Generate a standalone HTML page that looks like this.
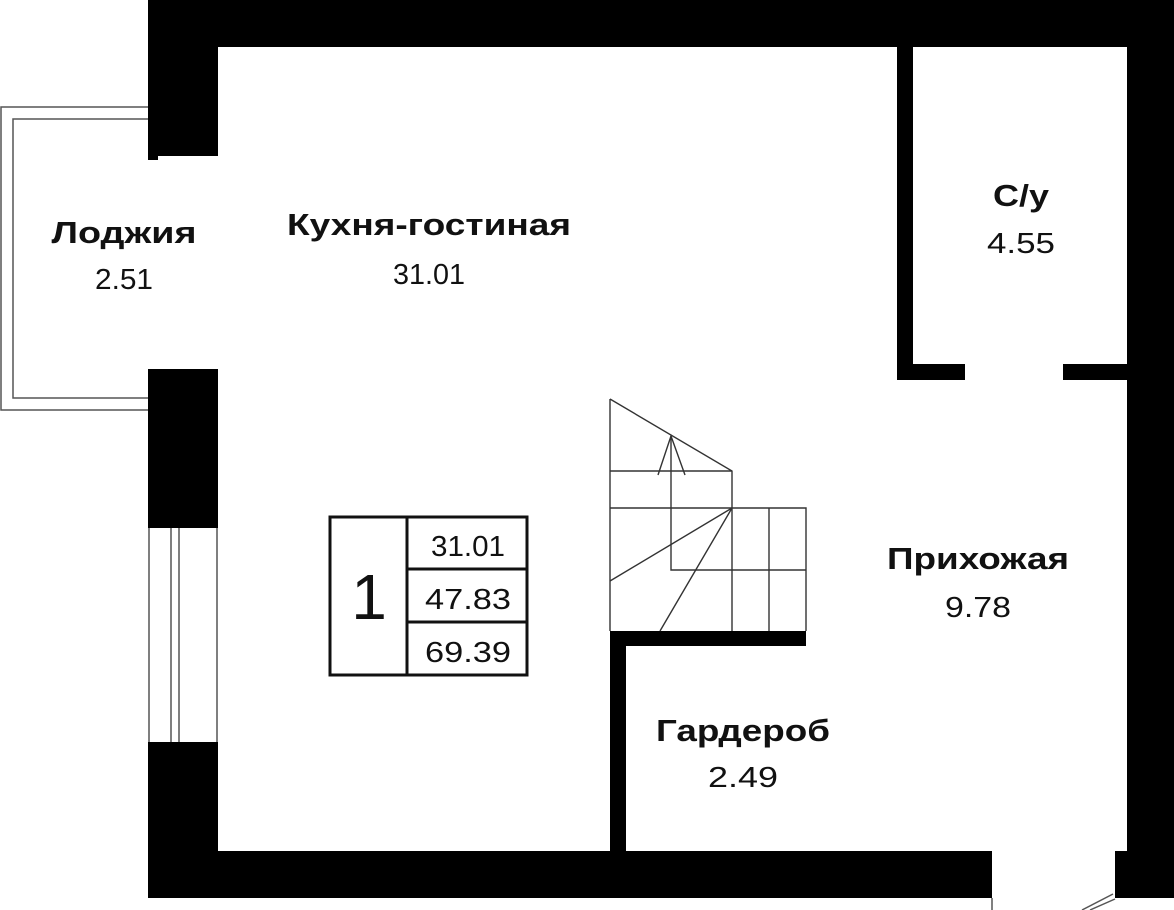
<!DOCTYPE html>
<html><head><meta charset="utf-8"><style>
html,body{margin:0;padding:0;background:#fff;}
svg{display:block;}
text{font-family:"Liberation Sans","DejaVu Sans",sans-serif;fill:#111;}
.b{font-weight:bold;font-size:31px;}
.n{font-size:29px;}
</style></head><body>
<svg width="1174" height="910" viewBox="0 0 1174 910" xmlns="http://www.w3.org/2000/svg">
<rect width="1174" height="910" fill="#fff"/>
<g fill="none" stroke="#555" stroke-width="1.5">
<path d="M148 107 H1 V410 H148"/>
<path d="M148 119 H13 V398 H148"/>
</g>
<g fill="#000">
<rect x="148" y="0" width="1026" height="47"/>
<rect x="1127" y="0" width="47" height="898"/>
<rect x="1115" y="851" width="59" height="47"/>
<rect x="148" y="0" width="70" height="156"/>
<rect x="148" y="156" width="10" height="4"/>
<rect x="148" y="369" width="70" height="159"/>
<rect x="148" y="742" width="70" height="156"/>
<rect x="148" y="851" width="844" height="47"/>
<rect x="610" y="631" width="196" height="15"/>
<rect x="610" y="631" width="16" height="222"/>
<rect x="897" y="47" width="16" height="333"/>
<rect x="897" y="364" width="68" height="16"/>
<rect x="1063" y="364" width="64" height="16"/>
</g>
<g stroke="#555" stroke-width="1.5" fill="none">
<line x1="149" y1="528" x2="149" y2="742"/>
<line x1="171" y1="528" x2="171" y2="742"/>
<line x1="179" y1="528" x2="179" y2="742"/>
<line x1="217" y1="528" x2="217" y2="742"/>
<line x1="992" y1="898" x2="992" y2="910"/>
<line x1="1113" y1="894" x2="1082" y2="910"/>
<line x1="1115" y1="899" x2="1090" y2="910"/>
</g>
<g stroke="#333" stroke-width="1.4" fill="none">
<path d="M610 399 V631"/>
<path d="M610 399 L732 471 V631"/>
<path d="M610 471 H732"/>
<path d="M610 508 H806 V631"/>
<path d="M671 436 V570 H806"/>
<path d="M769 508 V631"/>
<path d="M658 475 L671 436 L685 475"/>
<path d="M610 581 L732 508 L660 631"/>
</g>
<g stroke="#111" stroke-width="3" fill="none">
<rect x="330" y="517" width="197" height="158"/>
<line x1="407" y1="517" x2="407" y2="675"/>
<line x1="407" y1="569" x2="527" y2="569"/>
<line x1="407" y1="622" x2="527" y2="622"/>
</g>
<text x="369" y="619" font-size="64" text-anchor="middle">1</text>
<text x="468" y="556" class="n" text-anchor="middle" textLength="74" lengthAdjust="spacingAndGlyphs">31.01</text>
<text x="468" y="609" class="n" text-anchor="middle" textLength="86" lengthAdjust="spacingAndGlyphs">47.83</text>
<text x="468" y="662" class="n" text-anchor="middle" textLength="86" lengthAdjust="spacingAndGlyphs">69.39</text>
<text x="124" y="243" class="b" text-anchor="middle" textLength="145" lengthAdjust="spacingAndGlyphs">Лоджия</text>
<text x="124" y="289" class="n" text-anchor="middle" textLength="58" lengthAdjust="spacingAndGlyphs">2.51</text>
<text x="429" y="235" class="b" text-anchor="middle" textLength="284" lengthAdjust="spacingAndGlyphs">Кухня-гостиная</text>
<text x="429" y="284" class="n" text-anchor="middle" textLength="72" lengthAdjust="spacingAndGlyphs">31.01</text>
<text x="1021" y="206" class="b" text-anchor="middle" textLength="56" lengthAdjust="spacingAndGlyphs">С/у</text>
<text x="1021" y="253" class="n" text-anchor="middle" textLength="68" lengthAdjust="spacingAndGlyphs">4.55</text>
<text x="978" y="569" class="b" text-anchor="middle" textLength="182" lengthAdjust="spacingAndGlyphs">Прихожая</text>
<text x="978" y="617" class="n" text-anchor="middle" textLength="66" lengthAdjust="spacingAndGlyphs">9.78</text>
<text x="743" y="741" class="b" text-anchor="middle" textLength="174" lengthAdjust="spacingAndGlyphs">Гардероб</text>
<text x="743" y="787" class="n" text-anchor="middle" textLength="70" lengthAdjust="spacingAndGlyphs">2.49</text>
</svg>
</body></html>
